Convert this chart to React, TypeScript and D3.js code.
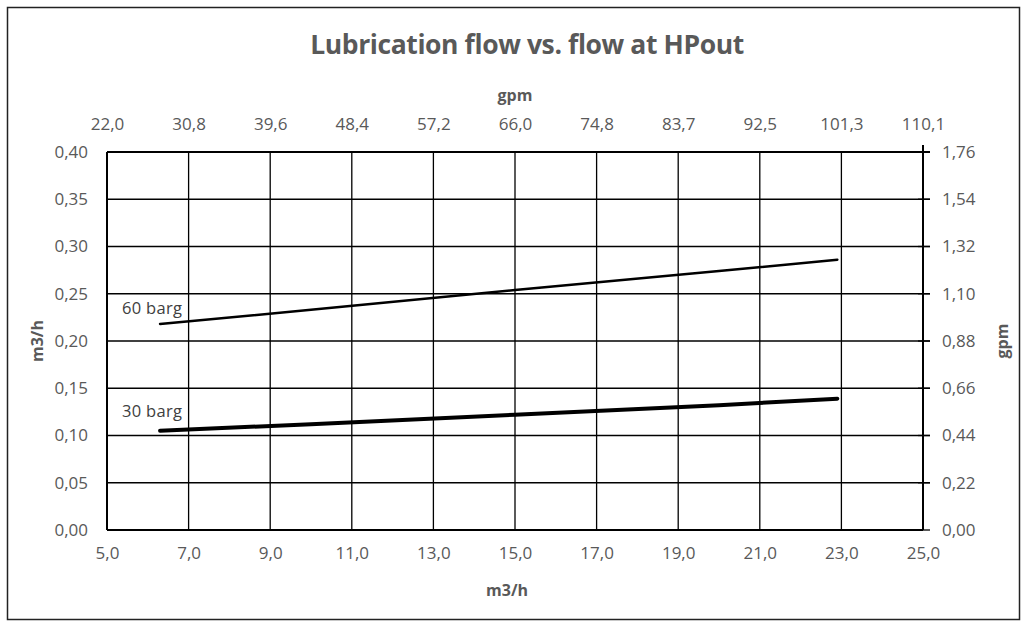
import * as d3 from "d3"
import { useRef, useEffect } from "react"

// m3/h on both axes, gpm on the secondary axes
const xTicks = [5, 7, 9, 11, 13, 15, 17, 19, 21, 23, 25]
const yTicks = [0, 0.05, 0.1, 0.15, 0.2, 0.25, 0.3, 0.35, 0.4]
const gpmTopLabels = ["22,0", "30,8", "39,6", "48,4", "57,2", "66,0", "74,8", "83,7", "92,5", "101,3", "110,1"]
const gpmRightLabels = ["0,00", "0,22", "0,44", "0,66", "0,88", "1,10", "1,32", "1,54", "1,76"]

const flowX = [6.3, 10, 15, 20, 22.9]
const barg60 = [0.218, 0.233, 0.254, 0.274, 0.286]
const barg30 = [0.105, 0.112, 0.122, 0.132, 0.139]

const W = 1028
const H = 624
const font = "'Open Sans', sans-serif"
const grey = "#595959"

export default function App() {
  const svgRef = useRef<SVGSVGElement>(null)

  useEffect(() => {
    if (!svgRef.current) return
    const svg = d3.select(svgRef.current)
    svg.selectAll("*").remove()

    const margin = { top: 152, right: W - 923, bottom: H - 530, left: 107 }
    const x = d3.scaleLinear().domain([5, 25]).range([margin.left, W - margin.right])
    const y = d3.scaleLinear().domain([0, 0.4]).range([H - margin.bottom, margin.top])

    svg
      .append("rect")
      .attr("x", 7.5)
      .attr("y", 7.5)
      .attr("width", 1012)
      .attr("height", 612)
      .attr("fill", "white")
      .attr("stroke", "#222")
      .attr("stroke-width", 1.5)

    svg
      .append("text")
      .attr("x", 527)
      .attr("y", 54)
      .attr("text-anchor", "middle")
      .style("font-family", font)
      .style("font-size", "26.5px")
      .style("font-weight", "bold")
      .style("letter-spacing", "-0.4px")
      .style("fill", grey)
      .text("Lubrication flow vs. flow at HPout")

    // grid
    const grid = svg.append("g")
    grid
      .selectAll("line.v")
      .data(xTicks.slice(1, -1))
      .enter()
      .append("line")
      .attr("x1", (d) => x(d))
      .attr("x2", (d) => x(d))
      .attr("y1", y(0.4))
      .attr("y2", y(0))
      .attr("stroke", "#000")
      .attr("stroke-width", 1.3)
    grid
      .selectAll("line.h")
      .data(yTicks.slice(1, -1))
      .enter()
      .append("line")
      .attr("x1", x(5))
      .attr("x2", x(25) + 7)
      .attr("y1", (d) => y(d))
      .attr("y2", (d) => y(d))
      .attr("stroke", "#000")
      .attr("stroke-width", 1.3)

    // frame lines
    const frame = svg.append("g").attr("stroke", "#000").attr("stroke-width", 2)
    frame.append("line").attr("x1", x(5)).attr("x2", x(25) + 7).attr("y1", y(0.4)).attr("y2", y(0.4))
    frame.append("line").attr("x1", x(5)).attr("x2", x(25)).attr("y1", y(0)).attr("y2", y(0))
    frame.append("line").attr("x1", x(5)).attr("x2", x(5)).attr("y1", y(0.4)).attr("y2", y(0))
    frame.append("line").attr("x1", x(25)).attr("x2", x(25)).attr("y1", y(0.4) - 7).attr("y2", y(0))
    frame
      .selectAll("line.tick")
      .data(yTicks)
      .enter()
      .append("line")
      .attr("x1", x(25) - 5)
      .attr("x2", x(25) + 7)
      .attr("y1", (d) => y(d))
      .attr("y2", (d) => y(d))
      .attr("stroke-width", 1.3)

    const tickStyle = (g: d3.Selection<SVGGElement, unknown, null, undefined>) =>
      g
        .selectAll("text")
        .style("font-family", font)
        .style("font-size", "17px")
        .style("fill", grey)

    const comma = (f: string) => (d: d3.NumberValue) => d3.format(f)(d).replace(".", ",")

    svg
      .append("g")
      .attr("transform", `translate(0,${y(0)})`)
      .call(d3.axisBottom(x).tickValues(xTicks).tickSize(0).tickPadding(17).tickFormat(comma(".1f")))
      .call((g) => g.select(".domain").remove())
      .call(tickStyle)

    svg
      .append("g")
      .attr("transform", `translate(0,${y(0.4)})`)
      .call(
        d3
          .axisTop(x)
          .tickValues(xTicks)
          .tickSize(0)
          .tickPadding(22)
          .tickFormat((_d, i) => gpmTopLabels[i]),
      )
      .call((g) => g.select(".domain").remove())
      .call(tickStyle)

    svg
      .append("g")
      .attr("transform", `translate(${x(5)},0)`)
      .call(d3.axisLeft(y).tickValues(yTicks).tickSize(0).tickPadding(19).tickFormat(comma(".2f")))
      .call((g) => g.select(".domain").remove())
      .call(tickStyle)

    svg
      .append("g")
      .attr("transform", `translate(${x(25)},0)`)
      .call(
        d3
          .axisRight(y)
          .tickValues(yTicks)
          .tickSize(0)
          .tickPadding(19)
          .tickFormat((_d, i) => gpmRightLabels[i]),
      )
      .call((g) => g.select(".domain").remove())
      .call(tickStyle)

    const axisTitle = (tx: number, ty: number, rot: number, label: string) =>
      svg
        .append("text")
        .attr("transform", `translate(${tx},${ty}) rotate(${rot})`)
        .attr("text-anchor", "middle")
        .style("font-family", font)
        .style("font-size", "16px")
        .style("font-weight", "bold")
        .style("fill", grey)
        .text(label)

    axisTitle(x(15) - 8, 596, 0, "m3/h")
    axisTitle(x(15), 101, 0, "gpm")
    axisTitle(43, y(0.2), -90, "m3/h")
    axisTitle(1008, y(0.2), -90, "gpm")

    const line = d3
      .line<number>()
      .x((_d, i) => x(flowX[i]))
      .y((d) => y(d))

    svg
      .append("path")
      .attr("d", line(barg60))
      .attr("fill", "none")
      .attr("stroke", "#000")
      .attr("stroke-width", 2.5)
      .attr("stroke-linecap", "round")
    svg
      .append("path")
      .attr("d", line(barg30))
      .attr("fill", "none")
      .attr("stroke", "#000")
      .attr("stroke-width", 4)
      .attr("stroke-linecap", "round")

    const seriesLabel = (v: number, label: string) =>
      svg
        .append("text")
        .attr("x", 122)
        .attr("y", y(v))
        .style("font-family", font)
        .style("font-size", "16.5px")
        .style("letter-spacing", "0.3px")
        .style("fill", "#404040")
        .text(label)

    seriesLabel(0.2286, "60 barg")
    seriesLabel(0.1196, "30 barg")
  }, [])

  return (
    <svg
      ref={svgRef}
      width={W}
      height={H}
      style={{ position: "absolute", left: 0, top: 0, background: "white" }}
    ></svg>
  )
}
